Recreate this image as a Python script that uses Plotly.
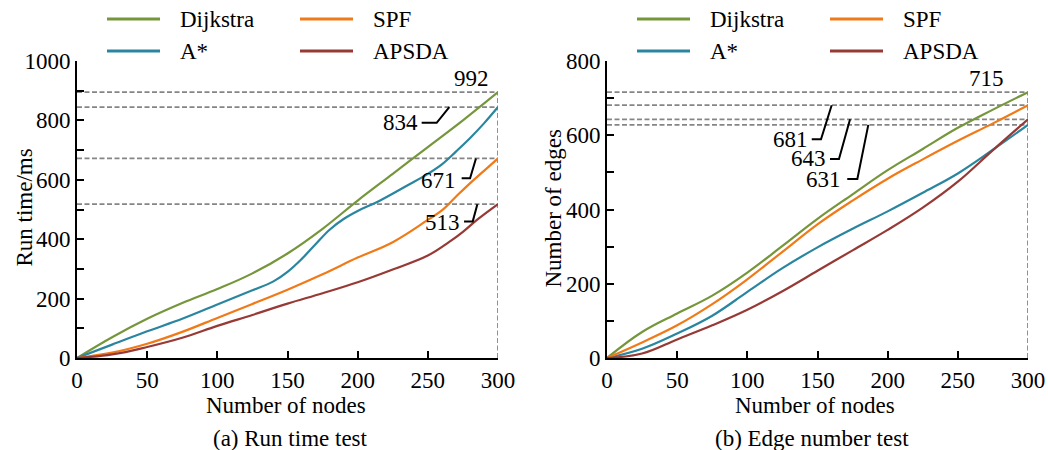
import plotly.graph_objects as go

# ---------------- data ----------------
series_names = ["Dijkstra", "A*", "SPF", "APSDA"]
label_a = ["992", "834", "671", "513"]
label_b = ["715", "631", "681", "643"]

# (a) Run time test
dijkstra_a_x = [0, 25, 50, 75, 100, 125, 150, 175, 200, 225, 250, 275, 300]
dijkstra_a = [0, 70, 132, 185, 232, 285, 352, 435, 530, 620, 710, 800, 895]
astar_a_x = [0, 25, 50, 75, 100, 125, 140, 150, 160, 170, 180, 190, 200, 215, 235, 250, 260, 270, 280, 290, 300]
astar_a = [0, 45, 90, 132, 180, 228, 258, 290, 333, 383, 432, 468, 495, 528, 580, 620, 652, 695, 740, 790, 845]
spf_a_x = [0, 25, 50, 75, 100, 125, 150, 175, 200, 225, 250, 260, 270, 280, 290, 300]
spf_a = [0, 18, 48, 88, 135, 182, 230, 282, 338, 390, 465, 497, 543, 588, 630, 672]
apsda_a_x = [0, 25, 50, 75, 100, 125, 150, 175, 200, 225, 250, 265, 275, 285, 300]
apsda_a = [0, 12, 37, 68, 108, 145, 183, 218, 255, 298, 345, 390, 425, 465, 518]

# (b) Edge number test
nodes_b = [0, 25, 50, 75, 100, 125, 150, 175, 200, 225, 250, 275, 300]
dijkstra_b = [0, 70, 120, 168, 230, 302, 375, 441, 506, 563, 620, 669, 716]
astar_b = [0, 25, 66, 114, 178, 242, 298, 348, 395, 445, 497, 561, 628]
spf_b = [0, 42, 88, 145, 212, 286, 360, 424, 483, 535, 585, 632, 681]
apsda_b = [0, 12, 50, 88, 130, 180, 235, 290, 345, 405, 475, 560, 643]

x_ticks = [0, 50, 100, 150, 200, 250, 300]

colors = {"Dijkstra": "#76963c", "A*": "#2a86a0", "SPF": "#f07a18", "APSDA": "#973a35"}
FONT = "Liberation Serif"
FS = 23

W, H = 1048, 450


def px_x(p):
    return p / W


def px_y(p):
    return 1 - p / H


fig = go.Figure()

panels = [
    ("x", "y", [(dijkstra_a_x, dijkstra_a), (astar_a_x, astar_a), (spf_a_x, spf_a), (apsda_a_x, apsda_a)]),
    ("x2", "y2", [(nodes_b, dijkstra_b), (nodes_b, astar_b), (nodes_b, spf_b), (nodes_b, apsda_b)]),
]

shapes = []
for xr, yr, data in panels:
    ends = [d[1][-1] for d in data]
    xmax = data[0][0][-1]
    # dashed guide lines
    for e in ends:
        shapes.append(dict(type="line", xref=xr, yref=yr, x0=0, x1=xmax, y0=e, y1=e,
                           line=dict(color="#858585", width=1.8, dash="5px,2.5px"), layer="below"))
    shapes.append(dict(type="line", xref=xr, yref=yr, x0=xmax, x1=xmax, y0=0, y1=max(ends),
                       line=dict(color="#858585", width=1.8, dash="5px,2.5px"), layer="below"))
    for name, (xs, ys) in zip(series_names, data):
        fig.add_trace(go.Scatter(x=xs, y=ys, mode="lines", name=name, xaxis=xr, yaxis=yr,
                                 line=dict(color=colors[name], width=2.2, shape="spline", smoothing=1.1),
                                 showlegend=False, hoverinfo="skip"))

# leader lines (data coordinates)
leaders = [
    ("x", "y", [(245.6, 792), (256.3, 792), (265.3, 845)]),
    ("x", "y", [(274.1, 605), (280.1, 605), (284.3, 672)]),
    ("x", "y", [(275.8, 460), (282.0, 460), (285.3, 518)]),
    ("x2", "y2", [(145.9, 589), (152.5, 589), (160.1, 681)]),
    ("x2", "y2", [(158.9, 536), (165.3, 536), (173.2, 643)]),
    ("x2", "y2", [(171.2, 482), (178.4, 482), (186.2, 628)]),
]
for xr, yr, pts in leaders:
    path = "M {} {} L {} {} L {} {}".format(*[c for p in pts for c in p])
    shapes.append(dict(type="path", xref=xr, yref=yr, path=path, line=dict(color="black", width=2)))

annotations = []
ann_specs = [
    ("x", "y", 280.8, 942, label_a[0], "center"),
    ("x", "y", 244.4, 792, label_a[1], "right"),
    ("x", "y", 271.7, 596, label_a[2], "right"),
    ("x", "y", 274.1, 455, label_a[3], "right"),
    ("x2", "y2", 270.1, 754, label_b[0], "center"),
    ("x2", "y2", 144.7, 588, label_b[2], "right"),
    ("x2", "y2", 157.5, 537, label_b[3], "right"),
    ("x2", "y2", 168.2, 480, label_b[1], "right"),
]
for xr, yr, x, y, t, anc in ann_specs:
    annotations.append(dict(xref=xr, yref=yr, x=x, y=y, text=t, showarrow=False, xanchor=anc,
                            yanchor="middle", font=dict(family=FONT, size=FS, color="black")))

# manual legends (two per panel, 2x2 layout)
legend_pos = [("Dijkstra", 0, 0), ("SPF", 1, 0), ("A*", 0, 1), ("APSDA", 1, 1)]
for off in (0, 530):
    for name, col, row in legend_pos:
        lx0 = 107 + off + col * 193
        ly = 19 + row * 32
        shapes.append(dict(type="line", xref="paper", yref="paper", x0=px_x(lx0), x1=px_x(lx0 + 53),
                           y0=px_y(ly), y1=px_y(ly), line=dict(color=colors[name], width=3)))
        annotations.append(dict(xref="paper", yref="paper", x=px_x(lx0 + 71), y=px_y(ly + 1), text=name,
                                showarrow=False, xanchor="left", yanchor="middle",
                                font=dict(family=FONT, size=FS, color="black")))

# axis titles & captions
text_specs = [
    (286.3, 405, "Number of nodes", 0),
    (290.8, 438, "(a) Run time test", 0),
    (815, 405, "Number of nodes", 0),
    (811.7, 438, "(b) Edge number test", 0),
    (23.5, 208, "Run time/ms", -90),
    (552.5, 209, "Number of edges", -90),
]
for x, y, t, ang in text_specs:
    annotations.append(dict(xref="paper", yref="paper", x=px_x(x), y=px_y(y), text=t, showarrow=False,
                            xanchor="center", yanchor="middle", textangle=ang,
                            font=dict(family=FONT, size=FS, color="black")))

axis_common = dict(showline=True, linecolor="black", linewidth=2, ticks="inside", ticklen=7, tickwidth=2,
                   tickcolor="black", showgrid=False, zeroline=False, automargin=False,
                   tickfont=dict(family=FONT, size=FS, color="black"))

fig.update_layout(
    width=W, height=H, margin=dict(l=0, r=0, t=0, b=0),
    paper_bgcolor="white", plot_bgcolor="white",
    xaxis=dict(domain=[px_x(77), px_x(498)], range=[0, 300], tickvals=x_ticks, anchor="y", **axis_common),
    yaxis=dict(domain=[px_y(358), px_y(61)], range=[0, 1000], dtick=200, anchor="x",
               minor=dict(dtick=100, ticks="inside", ticklen=7, tickwidth=2, tickcolor="black"), **axis_common),
    xaxis2=dict(domain=[px_x(607), px_x(1028)], range=[0, 300], tickvals=x_ticks, anchor="y2", **axis_common),
    yaxis2=dict(domain=[px_y(358), px_y(61)], range=[0, 800], dtick=200, anchor="x2",
                minor=dict(dtick=100, ticks="inside", ticklen=7, tickwidth=2, tickcolor="black"), **axis_common),
    shapes=shapes, annotations=annotations, showlegend=False,
)

fig.write_html("out.html", config={"displayModeBar": False},
               post_script="document.body.style.margin='0';document.body.style.overflow='hidden';")
